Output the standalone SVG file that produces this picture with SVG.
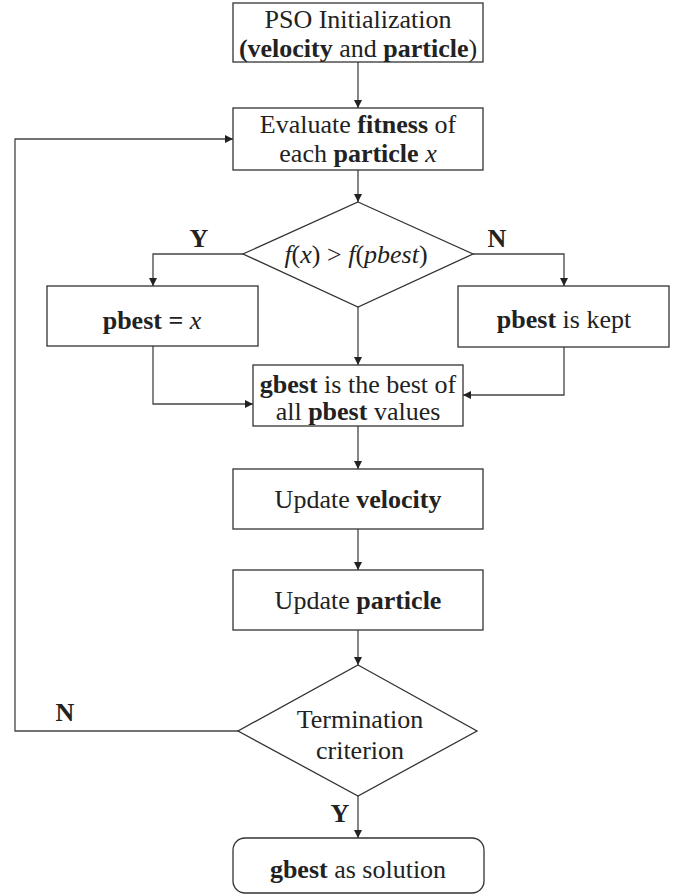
<svg xmlns="http://www.w3.org/2000/svg" width="678" height="896" viewBox="0 0 678 896">
<style>
.box{fill:#fff;stroke:#333;stroke-width:1.3}
.con{fill:none;stroke:#444;stroke-width:1.3}
text{font-family:"Liberation Serif","Times New Roman",serif;font-size:26px;fill:#222;text-anchor:middle}
.b{font-weight:bold}
.i{font-style:italic}
</style>
<defs>
<marker id="arr" viewBox="0 0 10 10" refX="10" refY="5" markerWidth="8" markerHeight="8" markerUnits="userSpaceOnUse" orient="auto">
<path d="M0,0 L10,5 L0,10 z" fill="#222"/>
</marker>
</defs>
<g id="connectors">
<path class="con" d="M358,62 V108" marker-end="url(#arr)"/>
<path class="con" d="M358,170 V202" marker-end="url(#arr)"/>
<path class="con" d="M243,254 H153 V286" marker-end="url(#arr)"/>
<path class="con" d="M473,254 H564 V286" marker-end="url(#arr)"/>
<path class="con" d="M358,307 V365" marker-end="url(#arr)"/>
<path class="con" d="M153,346 V404 H253" marker-end="url(#arr)"/>
<path class="con" d="M564,347 V395 H463" marker-end="url(#arr)"/>
<path class="con" d="M358,426 V469" marker-end="url(#arr)"/>
<path class="con" d="M358,529 V570" marker-end="url(#arr)"/>
<path class="con" d="M358,630 V665" marker-end="url(#arr)"/>
<path class="con" d="M358,796 V838" marker-end="url(#arr)"/>
<path class="con" d="M238,731 H15 V139 H233" marker-end="url(#arr)"/>
<text class="b" x="199" y="247">Y</text>
<text class="b" x="497" y="247">N</text>
<text class="b" x="65" y="721">N</text>
<text class="b" x="340" y="822">Y</text>
</g>
<g id="init">
<rect class="box" x="233" y="3" width="250" height="59"/>
<text x="358" y="28">PSO Initialization</text>
<text x="358" y="57"><tspan class="b">(velocity</tspan> and <tspan class="b">particle</tspan>)</text>
</g>
<g id="evaluate">
<rect class="box" x="233" y="108" width="250" height="62"/>
<text x="358" y="133">Evaluate <tspan class="b">fitness</tspan> of</text>
<text x="358" y="162">each <tspan class="b">particle</tspan> <tspan class="i">x</tspan></text>
</g>
<g id="decision1">
<polygon class="box" points="358,202 473,254 358,307 243,254"/>
<text x="356" y="263"><tspan class="i">f</tspan>(<tspan class="i">x</tspan>) &gt; <tspan class="i">f</tspan>(<tspan class="i">pbest</tspan>)</text>
</g>
<g id="pbest-x">
<rect class="box" x="47" y="286" width="211" height="60"/>
<text x="152" y="329"><tspan class="b">pbest =</tspan> <tspan class="i">x</tspan></text>
</g>
<g id="pbest-kept">
<rect class="box" x="458" y="286" width="211" height="61"/>
<text x="564" y="328"><tspan class="b">pbest</tspan> is kept</text>
</g>
<g id="gbest">
<rect class="box" x="253" y="365" width="210" height="61"/>
<text x="358" y="393"><tspan class="b">gbest</tspan> is the best of</text>
<text x="358" y="420">all <tspan class="b">pbest</tspan> values</text>
</g>
<g id="update-velocity">
<rect class="box" x="233" y="469" width="250" height="60"/>
<text x="358" y="508">Update <tspan class="b">velocity</tspan></text>
</g>
<g id="update-particle">
<rect class="box" x="233" y="570" width="250" height="60"/>
<text x="358" y="609">Update <tspan class="b">particle</tspan></text>
</g>
<g id="termination">
<polygon class="box" points="358,665 477,731 358,796 238,731"/>
<text x="360" y="728">Termination</text>
<text x="360" y="759">criterion</text>
</g>
<g id="solution">
<rect class="box" x="233" y="838" width="251" height="55" rx="12" ry="12"/>
<text x="358" y="878"><tspan class="b">gbest</tspan> as solution</text>
</g>
</svg>
